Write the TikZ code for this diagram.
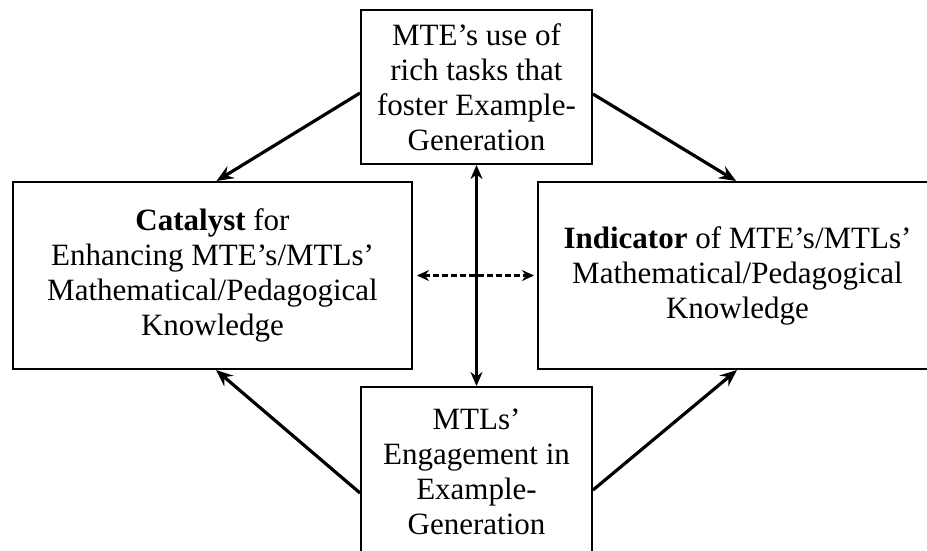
\documentclass[tikz,border=0pt]{standalone}
\usepackage{fontspec}
\setmainfont{Liberation Serif}
\usetikzlibrary{arrows.meta}
\tikzset{
  box/.style={draw, line width=2pt, inner sep=0pt, align=center,
    font=\fontsize{31}{35}\selectfont},
  conn/.style={line width=3.2pt, -{Stealth[length=17pt,width=14pt,inset=6pt]}},
  dconn/.style={line width=2.6pt, dash pattern=on 6pt off 3pt,
    {Stealth[length=12pt,width=11pt,inset=4pt]}-{Stealth[length=12pt,width=11pt,inset=4pt]}},
  vconn/.style={line width=3pt,
    {Stealth[length=14pt,width=12pt,inset=4.5pt]}-{Stealth[length=14pt,width=12pt,inset=4.5pt]}}
}
\begin{document}
\begin{tikzpicture}[x=1pt,y=-1pt]
\useasboundingbox (0,0) rectangle (927,550);
\clip (0,0) rectangle (927,550);
\fill[white] (0,0) rectangle (927,550);
\node[box, minimum width=231pt, minimum height=154pt] (top) at (476.5,87)
  {MTE’s use of\\rich tasks that\\foster Example-\\Generation};
\node[box, minimum width=231pt, minimum height=170pt] (bot) at (476.5,472)
  {MTLs’\\Engagement in\\Example-\\Generation};
\node[box, minimum width=399pt, minimum height=187pt] (lbox) at (212.5,275.5)
  {\textbf{Catalyst} for\\Enhancing MTE’s/MTLs’\\Mathematical/Pedagogical\\Knowledge};
\node[box, minimum width=399pt, minimum height=187pt] (rbox) at (737.5,275.5)
  {\textbf{Indicator} of MTE’s/MTLs’\\Mathematical/Pedagogical\\Knowledge};
\draw[conn] ([yshift=-6pt]top.west) -- ([xshift=4pt]lbox.north);
\draw[conn] ([yshift=-7pt]top.east) -- ([xshift=-1.5pt]rbox.north);
\draw[conn] ([yshift=-21pt]bot.west) -- ([xshift=3.5pt]lbox.south);
\draw[conn] ([yshift=-18pt]bot.east) -- ([xshift=-0.5pt]rbox.south);
\draw[vconn] (top.south) -- (bot.north);
\draw[dconn, shorten <=4pt, shorten >=3pt] (lbox.east) -- (rbox.west);
\end{tikzpicture}
\end{document}
